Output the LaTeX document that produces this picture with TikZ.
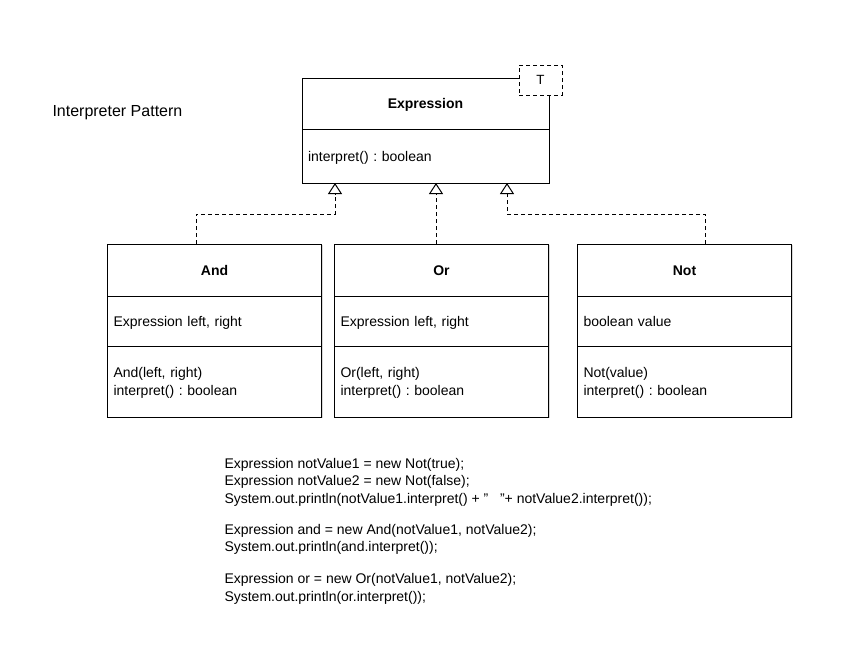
\documentclass[tikz,border=0pt]{standalone}
\usepackage{fontspec}
\setmainfont{Liberation Sans}
\usetikzlibrary{positioning,calc,arrows.meta,shadows}

\tikzset{every picture/.style={line width=0.75pt}}
\tikzset{
  umlpart/.style 2 args={draw, fill=white, outer sep=0pt, inner xsep=4.5pt, inner ysep=0pt,
    minimum width=#1, text width=#1-9pt, minimum height=#2, align=left,
    text height=7.5pt, text depth=0pt,
    font=\fontsize{10.5}{13.5}\selectfont,
    drop shadow={shadow xshift=1pt, shadow yshift=-1pt, fill=black!30}},
  umlhead/.style 2 args={umlpart={#1}{#2}, align=center, font=\fontsize{10.5}{13.5}\selectfont\bfseries},
  umlops/.style 2 args={umlpart={#1}{#2}, text height=21pt, text depth=26.7pt},
  realize/.style={dash pattern=on 3pt off 2.25pt, -{Triangle[open, length=8.25pt, width=10.5pt]}}
}

\begin{document}
\frenchspacing
\begin{tikzpicture}[x=0.75pt,y=0.75pt,yscale=-1,xscale=1]
\useasboundingbox (0,0) rectangle (849,644);

% Title
\node[anchor=base west, inner sep=0pt, font=\fontsize{12}{14}\selectfont] (title) at (52,116.5) {Interpreter Pattern};

% Interface Expression
\node[umlhead={185.25pt}{38.25pt}, text depth=-2pt] (exph) at (425.5,103.5) {Expression};
\node[umlpart={185.25pt}{40.5pt}] (expb) [below=0pt of exph] {interpret() : boolean};
% template parameter
\node[draw, fill=white, dash pattern=on 3pt off 2.25pt, minimum width=32.25pt, minimum height=22.5pt,
  inner sep=0pt, font=\fontsize{10}{12}\selectfont] (tparam) at ($(exph.north east)+(-8.5,2)$) {T};

% Class And
\node[umlhead={160.5pt}{39pt}] (andh) at (214.5,270) {And};
\node[umlpart={160.5pt}{37.5pt}, below=0pt of andh] (anda) {Expression left, right};
\node[umlops={160.5pt}{53.25pt}, below=0pt of anda] (andm) {And(left, right)\\interpret() : boolean};

% Class Or
\node[umlhead={160.5pt}{39pt}] (orh) at (441.5,270) {Or};
\node[umlpart={160.5pt}{37.5pt}, below=0pt of orh] (ora) {Expression left, right};
\node[umlops={160.5pt}{53.25pt}, below=0pt of ora] (orm) {Or(left, right)\\interpret() : boolean};

% Class Not
\node[umlhead={160.5pt}{39pt}] (noth) at (684.5,270) {Not};
\node[umlpart={160.5pt}{37.5pt}, below=0pt of noth] (nota) {boolean value};
\node[umlops={160.5pt}{53.25pt}, below=0pt of nota] (notm) {Not(value)\\interpret() : boolean};

% Realization
\coordinate (tipAnd) at ($(expb.south)+(-90.5,0)$);
\coordinate (tipOr) at ($(expb.south)+(10.5,0)$);
\coordinate (tipNot) at ($(expb.south)+(81.5,0)$);
\draw[realize] ($(andh.north)+(-18.5,0)$) -- ++(0,-30) -| (tipAnd);
\draw[realize] ($(orh.north)+(-5.5,0)$) -- (tipOr);
\draw[realize] ($(noth.north)+(20.5,0)$) -- ++(0,-30) -| (tipNot);

% Client code
\node[anchor=north west, inner sep=0pt, align=left, font=\fontsize{10.5}{13}\selectfont] (code) at (224,458) {%
Expression notValue1 = new Not(true);\\
Expression notValue2 = new Not(false);\\
System.out.println(notValue1.interpret() + "\ \ \ "+ notValue2.interpret());\\[10.5pt]
Expression and = new And(notValue1, notValue2);\\
System.out.println(and.interpret());\\[11pt]
Expression or = new Or(notValue1, notValue2);\\
System.out.println(or.interpret());};

\end{tikzpicture}
\end{document}
